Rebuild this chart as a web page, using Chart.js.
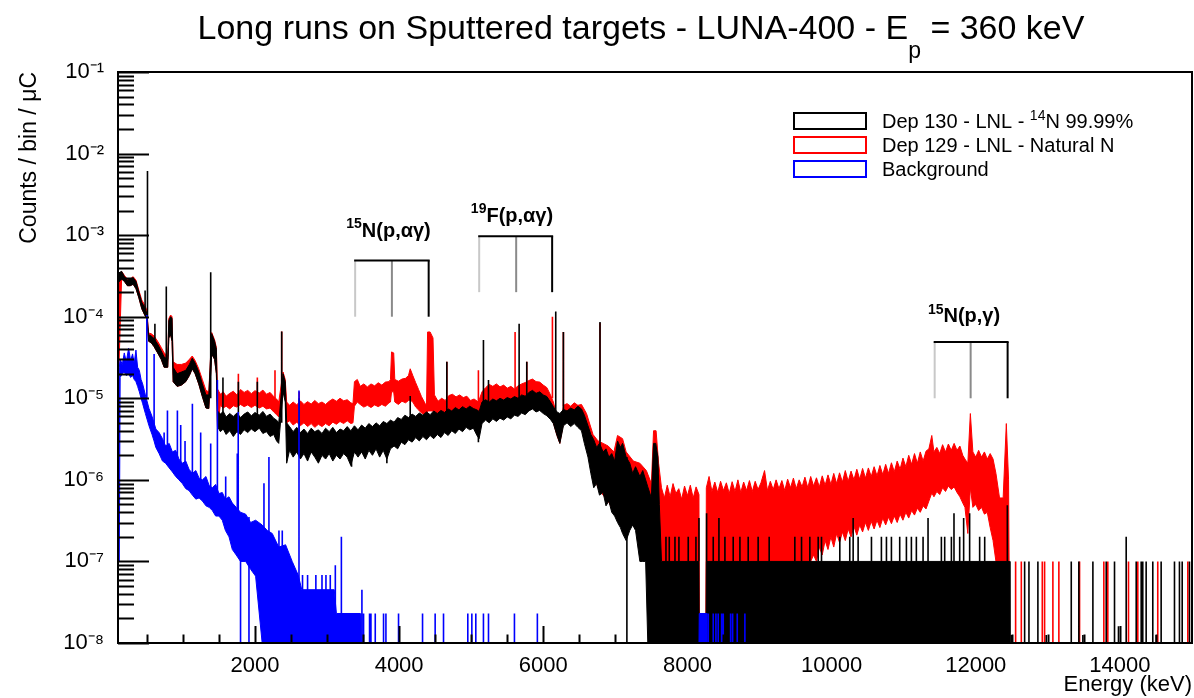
<!DOCTYPE html>
<html lang="en">
<head>
<meta charset="UTF-8">
<title>Long runs on Sputtered targets - LUNA-400</title>
<style>
  body { margin: 0; background: #fff; }
  canvas { display: block; }
</style>
</head>
<body>
<canvas id="spectrum" width="1194" height="698"></canvas>
<script src="https://cdn.jsdelivr.net/npm/chart.js@4"></script>
<script>
// axis ranges and tick labels
const X_MIN = 100, X_MAX = 15000;
const Y_MIN = 1e-8, Y_MAX = 1e-1;
const xTickValues = [2000, 4000, 6000, 8000, 10000, 12000, 14000];
const xTickLabels = ['2000', '4000', '6000', '8000', '10000', '12000', '14000'];
const yTickValues = [1e-8, 1e-7, 1e-6, 1e-5, 1e-4, 1e-3, 1e-2, 1e-1];
const yTickLabels = ['10⁻⁸', '10⁻⁷', '10⁻⁶', '10⁻⁵', '10⁻⁴', '10⁻³', '10⁻²', '10⁻¹'];

const seriesNames = ['Dep 130 - LNL - ^{14}N 99.99%', 'Dep 129 - LNL - Natural N', 'Background'];
const seriesColors = ['#000000', '#ff0000', '#0000ff'];

// noise band of each spectrum: [energy keV, upper edge, lower edge] in counts/bin/uC
const blackBand = [
  [100, 3.4e-4, 2.6e-4], [150, 3.6e-4, 2.9e-4], [190, 3.1e-4, 2.7e-4], [230, 2.8e-4, 2.4e-4],
  [270, 2.9e-4, 2.4e-4], [310, 3.0e-4, 2.5e-4], [350, 2.7e-4, 2.2e-4], [390, 2.0e-4, 1.7e-4],
  [430, 1.5e-4, 1.25e-4], [470, 1.3e-4, 1.05e-4], [500, 1.1e-4, 9.5e-5], [525, 6.0e-5, 5.0e-5],
  [560, 5.8e-5, 4.8e-5], [600, 5.4e-5, 4.3e-5], [650, 4.6e-5, 3.6e-5], [700, 3.8e-5, 3.0e-5],
  [740, 3.2e-5, 2.4e-5], [790, 3.0e-5, 2.4e-5], [805, 9.0e-5, 5.5e-5], [830, 1.0e-4, 6.0e-5],
  [850, 9.5e-5, 5.0e-5], [865, 2.4e-5, 1.6e-5], [920, 2.0e-5, 1.4e-5], [980, 2.1e-5, 1.45e-5],
  [1040, 2.2e-5, 1.6e-5], [1090, 2.6e-5, 1.9e-5], [1130, 3.1e-5, 2.3e-5], [1170, 2.7e-5, 2.0e-5],
  [1220, 2.1e-5, 1.5e-5], [1270, 1.5e-5, 1.05e-5], [1320, 1.1e-5, 7.6e-6], [1360, 1.1e-5, 7.5e-6],
  [1400, 6.2e-5, 3.5e-5], [1440, 5.0e-5, 3.0e-5], [1465, 4.0e-5, 2.0e-5], [1480, 7.0e-6, 4.5e-6],
  [1520, 6.4e-6, 3.9e-6], [1560, 6.9e-6, 4.2e-6], [1600, 5.9e-6, 3.6e-6], [1650, 6.5e-6, 4.0e-6],
  [1700, 6.0e-6, 3.4e-6], [1750, 6.6e-6, 3.9e-6], [1800, 5.8e-6, 3.6e-6], [1850, 6.4e-6, 4.1e-6],
  [1900, 6.8e-6, 3.8e-6], [1950, 6.1e-6, 4.2e-6], [2000, 6.7e-6, 3.9e-6], [2060, 6.2e-6, 4.3e-6],
  [2110, 6.9e-6, 3.7e-6], [2160, 6.0e-6, 3.9e-6], [2210, 6.4e-6, 3.4e-6], [2260, 5.7e-6, 3.6e-6],
  [2300, 5.4e-6, 3.0e-6], [2330, 5.0e-6, 2.8e-6], [2390, 2.0e-5, 1.2e-5], [2420, 1.6e-5, 9.0e-6],
  [2440, 5.0e-6, 1.6e-6], [2480, 4.5e-6, 2.3e-6], [2530, 3.9e-6, 1.9e-6], [2580, 4.4e-6, 2.2e-6],
  [2630, 3.8e-6, 1.8e-6], [2680, 4.2e-6, 2.1e-6], [2730, 3.7e-6, 1.7e-6], [2780, 4.3e-6, 2.2e-6],
  [2830, 3.9e-6, 1.9e-6], [2880, 4.1e-6, 1.6e-6], [2930, 3.7e-6, 2.0e-6], [2980, 4.3e-6, 1.8e-6],
  [3030, 3.9e-6, 2.1e-6], [3080, 4.4e-6, 1.7e-6], [3130, 3.8e-6, 2.0e-6], [3180, 4.2e-6, 1.8e-6],
  [3230, 4.0e-6, 2.1e-6], [3280, 4.5e-6, 1.9e-6], [3330, 4.0e-6, 1.5e-6], [3380, 4.6e-6, 2.2e-6],
  [3430, 4.1e-6, 1.9e-6], [3480, 4.7e-6, 2.2e-6], [3530, 4.3e-6, 1.8e-6], [3580, 4.9e-6, 2.3e-6],
  [3630, 4.5e-6, 2.0e-6], [3680, 5.0e-6, 2.4e-6], [3730, 4.6e-6, 1.9e-6], [3780, 5.2e-6, 2.3e-6],
  [3830, 4.9e-6, 1.8e-6], [3880, 5.4e-6, 2.4e-6], [3930, 5.1e-6, 2.6e-6], [3980, 5.8e-6, 2.4e-6],
  [4030, 5.5e-6, 2.9e-6], [4080, 6.2e-6, 2.7e-6], [4130, 5.8e-6, 3.1e-6], [4180, 6.4e-6, 2.9e-6],
  [4230, 6.0e-6, 3.3e-6], [4280, 6.6e-6, 3.0e-6], [4330, 6.2e-6, 3.4e-6], [4380, 6.8e-6, 3.1e-6],
  [4430, 6.3e-6, 3.5e-6], [4480, 7.0e-6, 3.2e-6], [4530, 6.5e-6, 3.6e-6], [4580, 7.1e-6, 3.3e-6],
  [4630, 6.7e-6, 3.8e-6], [4680, 7.4e-6, 3.5e-6], [4730, 7.0e-6, 4.0e-6], [4780, 7.7e-6, 3.7e-6],
  [4830, 7.2e-6, 4.2e-6], [4880, 7.9e-6, 3.9e-6], [4930, 7.4e-6, 4.4e-6], [4980, 8.0e-6, 4.1e-6],
  [5030, 7.5e-6, 4.3e-6], [5080, 7.2e-6, 3.5e-6], [5110, 6.9e-6, 3.2e-6], [5150, 9.0e-6, 4.9e-6],
  [5200, 9.6e-6, 5.4e-6], [5250, 9.0e-6, 5.0e-6], [5300, 9.8e-6, 5.6e-6], [5350, 9.3e-6, 5.2e-6],
  [5400, 1.0e-5, 5.7e-6], [5450, 9.5e-6, 5.4e-6], [5500, 1.02e-5, 5.9e-6], [5550, 9.8e-6, 5.6e-6],
  [5600, 1.05e-5, 6.2e-6], [5650, 1.0e-5, 6.0e-6], [5700, 1.1e-5, 6.6e-6], [5750, 1.06e-5, 6.3e-6],
  [5800, 1.18e-5, 7.0e-6], [5850, 1.25e-5, 7.4e-6], [5900, 1.15e-5, 6.8e-6], [5950, 1.2e-5, 7.1e-6],
  [6000, 1.1e-5, 6.5e-6], [6050, 1.05e-5, 6.1e-6], [6100, 9.0e-6, 5.5e-6], [6140, 7.9e-6, 4.9e-6],
  [6190, 6.8e-6, 3.5e-6], [6230, 6.5e-6, 2.8e-6], [6280, 7.3e-6, 4.6e-6], [6330, 7.0e-6, 5.0e-6],
  [6380, 7.6e-6, 4.5e-6], [6430, 7.2e-6, 4.9e-6], [6480, 8.0e-6, 4.4e-6], [6530, 7.4e-6, 4.0e-6],
  [6570, 6.2e-6, 2.8e-6], [6620, 4.6e-6, 1.9e-6], [6660, 3.6e-6, 1.2e-6], [6700, 3.1e-6, 8.0e-7],
  [6740, 2.5e-6, 9.0e-7], [6780, 2.8e-6, 6.5e-7], [6830, 2.2e-6, 7.0e-7], [6870, 2.4e-6, 4.8e-7],
  [6910, 1.9e-6, 5.5e-7], [6950, 2.1e-6, 4.0e-7], [6990, 1.7e-6, 3.6e-7], [7030, 3.0e-6, 3.0e-7],
  [7070, 2.5e-6, 2.6e-7], [7100, 2.8e-6, 2.2e-7], [7150, 1.9e-6, 1.8e-7], [7200, 1.6e-6, 2.4e-7],
  [7240, 1.2e-6, 2.8e-7], [7280, 1.45e-6, 2.4e-7], [7340, 1.1e-6, 1.0e-7], [7380, 1.3e-6, 1.0e-7],
  [7420, 1.0e-6, 1.0e-7], [7450, 8.2e-7, 1e-8], [7500, 6.0e-7, 1e-8], [7530, 2.8e-6, 1e-8],
  [7560, 2.8e-6, 1e-8], [7590, 1.9e-6, 1e-8], [7610, 5.0e-7, 1e-8], [7640, 1e-7, 1e-8],
  [8160, 1e-7, 1e-8], [8164, 1e-8, 1e-8], [8257, 1e-8, 1e-8], [8262, 1e-7, 1e-8],
  [12470, 1e-7, 1e-8], [12475, 1e-8, 1e-8], [15000, 1e-8, 1e-8]
];

const redBand = [
  [100, 3.0e-4, 1.0e-5], [150, 3.6e-4, 2.9e-4], [190, 3.2e-4, 2.7e-4], [230, 2.9e-4, 2.4e-4],
  [270, 2.9e-4, 2.4e-4], [310, 3.1e-4, 2.5e-4], [350, 2.8e-4, 2.2e-4], [390, 2.1e-4, 1.7e-4],
  [430, 1.6e-4, 1.25e-4], [470, 1.4e-4, 1.05e-4], [500, 1.2e-4, 9.5e-5], [525, 6.3e-5, 5.0e-5],
  [560, 6.2e-5, 4.8e-5], [600, 5.8e-5, 4.3e-5], [650, 5.0e-5, 3.6e-5], [700, 4.2e-5, 3.0e-5],
  [740, 3.6e-5, 2.4e-5], [790, 3.3e-5, 2.4e-5], [805, 9.5e-5, 5.5e-5], [830, 1.05e-4, 6.0e-5],
  [850, 1.0e-4, 5.0e-5], [865, 2.8e-5, 1.6e-5], [920, 2.6e-5, 1.4e-5], [980, 2.6e-5, 1.45e-5],
  [1040, 2.7e-5, 1.6e-5], [1090, 3.0e-5, 1.9e-5], [1130, 3.3e-5, 2.3e-5], [1170, 2.9e-5, 2.0e-5],
  [1220, 2.3e-5, 1.5e-5], [1270, 1.7e-5, 1.05e-5], [1320, 1.25e-5, 7.6e-6], [1360, 1.2e-5, 7.5e-6],
  [1400, 6.4e-5, 3.5e-5], [1440, 5.2e-5, 3.0e-5], [1465, 4.2e-5, 2.0e-5], [1480, 1.3e-5, 4.5e-6],
  [1520, 1.12e-5, 8.2e-6], [1560, 1.2e-5, 7.6e-6], [1600, 1.06e-5, 8.0e-6], [1650, 1.15e-5, 7.4e-6],
  [1700, 1.22e-5, 8.1e-6], [1750, 1.1e-5, 7.8e-6], [1800, 1.28e-5, 8.4e-6], [1850, 1.18e-5, 7.9e-6],
  [1900, 1.25e-5, 8.3e-6], [1950, 1.14e-5, 7.7e-6], [2000, 1.24e-5, 8.2e-6], [2060, 1.16e-5, 7.6e-6],
  [2110, 1.26e-5, 8.0e-6], [2160, 1.12e-5, 7.4e-6], [2210, 1.18e-5, 7.6e-6], [2260, 1.05e-5, 6.8e-6],
  [2300, 9.8e-6, 6.3e-6], [2330, 9.0e-6, 5.9e-6], [2390, 2.1e-5, 1.3e-5], [2420, 1.7e-5, 1.0e-5],
  [2440, 9.0e-6, 5.0e-6], [2480, 8.2e-6, 5.3e-6], [2530, 9.0e-6, 4.7e-6], [2580, 8.3e-6, 5.1e-6],
  [2630, 9.3e-6, 4.6e-6], [2680, 8.4e-6, 5.0e-6], [2730, 9.1e-6, 4.5e-6], [2780, 8.5e-6, 4.9e-6],
  [2830, 9.4e-6, 4.4e-6], [2880, 8.6e-6, 4.8e-6], [2930, 9.0e-6, 4.5e-6], [2980, 8.4e-6, 4.9e-6],
  [3030, 9.2e-6, 4.6e-6], [3080, 9.8e-6, 5.1e-6], [3130, 9.2e-6, 4.8e-6], [3180, 1.0e-5, 5.2e-6],
  [3230, 9.3e-6, 4.9e-6], [3280, 9.6e-6, 5.3e-6], [3330, 8.8e-6, 4.9e-6], [3360, 8.6e-6, 5.0e-6],
  [3380, 1.6e-5, 8.0e-6], [3420, 1.7e-5, 9.0e-6], [3460, 1.4e-5, 8.4e-6], [3510, 1.5e-5, 7.8e-6],
  [3560, 1.38e-5, 8.2e-6], [3610, 1.5e-5, 7.7e-6], [3660, 1.42e-5, 8.3e-6], [3710, 1.55e-5, 7.9e-6],
  [3760, 1.45e-5, 8.4e-6], [3810, 1.58e-5, 8.0e-6], [3860, 1.6e-5, 8.8e-6], [3880, 1.7e-5, 9.0e-6],
  [3895, 3.7e-5, 1.2e-5], [3925, 3.6e-5, 1.2e-5], [3940, 1.7e-5, 9.0e-6], [3990, 1.62e-5, 8.4e-6],
  [4040, 1.72e-5, 9.2e-6], [4090, 1.76e-5, 8.8e-6], [4130, 1.9e-5, 9.4e-6], [4154, 2.3e-5, 9.5e-6],
  [4190, 1.9e-5, 9.0e-6], [4230, 1.55e-5, 7.8e-6], [4270, 1.28e-5, 7.2e-6], [4310, 1.05e-5, 6.6e-6],
  [4350, 9.0e-6, 6.3e-6], [4380, 8.0e-6, 6.0e-6], [4395, 6.5e-5, 7.0e-6], [4430, 6.5e-5, 7.0e-6],
  [4470, 5.5e-5, 7.0e-6], [4490, 1.1e-5, 6.5e-6], [4540, 9.2e-6, 6.2e-6], [4590, 1.0e-5, 6.5e-6],
  [4640, 9.4e-6, 6.3e-6], [4690, 1.08e-5, 6.8e-6], [4740, 1.12e-5, 7.0e-6], [4790, 1.04e-5, 6.9e-6],
  [4840, 1.1e-5, 7.1e-6], [4890, 1.02e-5, 6.8e-6], [4940, 1.06e-5, 7.0e-6], [4990, 9.4e-6, 6.5e-6],
  [5040, 9.8e-6, 6.1e-6], [5100, 9.0e-6, 5.0e-6], [5150, 1.2e-5, 6.8e-6], [5200, 1.35e-5, 7.0e-6],
  [5250, 1.48e-5, 7.2e-6], [5300, 1.4e-5, 7.0e-6], [5350, 1.5e-5, 7.3e-6], [5400, 1.38e-5, 7.0e-6],
  [5450, 1.45e-5, 7.2e-6], [5500, 1.33e-5, 7.0e-6], [5550, 1.4e-5, 7.2e-6], [5600, 1.3e-5, 7.1e-6],
  [5650, 1.42e-5, 7.8e-6], [5700, 1.5e-5, 8.0e-6], [5750, 1.56e-5, 8.1e-6], [5800, 1.65e-5, 8.2e-6],
  [5850, 1.72e-5, 8.4e-6], [5900, 1.6e-5, 8.0e-6], [5950, 1.58e-5, 7.8e-6], [6000, 1.45e-5, 7.4e-6],
  [6050, 1.35e-5, 7.0e-6], [6100, 1.1e-5, 6.0e-6], [6140, 9.0e-6, 5.0e-6], [6190, 6.0e-6, 3.5e-6],
  [6230, 4.0e-6, 2.8e-6], [6280, 8.2e-6, 5.0e-6], [6330, 8.6e-6, 5.3e-6], [6380, 8.0e-6, 5.1e-6],
  [6430, 8.8e-6, 5.4e-6], [6480, 8.2e-6, 5.0e-6], [6530, 8.4e-6, 4.6e-6], [6600, 6.5e-6, 3.4e-6],
  [6690, 3.6e-6, 1.2e-6], [6760, 3.0e-6, 8.0e-7], [6830, 2.8e-6, 6.5e-7], [6900, 2.6e-6, 5.5e-7],
  [6980, 2.2e-6, 4.0e-7], [7030, 3.5e-6, 3.5e-7], [7100, 3.2e-6, 3.0e-7], [7150, 2.2e-6, 3.0e-7],
  [7250, 1.7e-6, 3.0e-7], [7340, 1.6e-6, 2.0e-7], [7430, 1.3e-6, 2.0e-7], [7500, 9.0e-7, 1.5e-7],
  [7530, 4.0e-6, 1.5e-7], [7565, 4.0e-6, 1.5e-7], [7600, 1.6e-6, 1.5e-7], [7640, 8.0e-7, 1.0e-7],
  [7680, 6.0e-7, 1.0e-7], [7720, 8.6e-7, 1.0e-7], [7760, 6.2e-7, 1.0e-7], [7800, 9.0e-7, 1.0e-7],
  [7840, 6.8e-7, 1.0e-7], [7880, 7.8e-7, 1.0e-7], [7920, 5.8e-7, 1.0e-7], [7960, 8.4e-7, 1.0e-7],
  [8000, 6.4e-7, 1.0e-7], [8040, 8.6e-7, 1.0e-7], [8080, 6.0e-7, 1.0e-7], [8120, 8.2e-7, 1.0e-7],
  [8160, 6.6e-7, 1.0e-7], [8164, 1e-8, 1e-8], [8257, 1e-8, 1e-8], [8262, 8.0e-7, 1.0e-7],
  [8300, 1.1e-6, 1.0e-7], [8340, 7.2e-7, 1.0e-7], [8380, 9.4e-7, 1.0e-7], [8420, 7.0e-7, 1.0e-7],
  [8460, 9.6e-7, 1.0e-7], [8500, 7.4e-7, 1.0e-7], [8540, 9.2e-7, 1.0e-7], [8580, 6.8e-7, 1.0e-7],
  [8620, 9.5e-7, 1.0e-7], [8660, 7.2e-7, 1.0e-7], [8700, 1.0e-6, 1.0e-7], [8740, 7.0e-7, 1.0e-7],
  [8780, 9.4e-7, 1.0e-7], [8820, 7.4e-7, 1.0e-7], [8860, 9.8e-7, 1.0e-7], [8900, 7.2e-7, 1.0e-7],
  [8940, 9.6e-7, 1.0e-7], [8980, 7.6e-7, 1.0e-7], [9020, 9.2e-7, 1.0e-7], [9070, 1.3e-6, 1.0e-7],
  [9110, 7.4e-7, 1.0e-7], [9150, 9.6e-7, 1.0e-7], [9190, 7.6e-7, 1.0e-7], [9230, 1.0e-6, 1.0e-7],
  [9270, 7.8e-7, 1.0e-7], [9310, 9.8e-7, 1.0e-7], [9350, 7.4e-7, 1.0e-7], [9390, 1.02e-6, 1.0e-7],
  [9430, 8.0e-7, 1.0e-7], [9470, 1.05e-6, 1.0e-7], [9510, 7.8e-7, 1.0e-7], [9550, 1.0e-6, 1.0e-7],
  [9590, 8.2e-7, 1.0e-7], [9630, 1.08e-6, 1.0e-7], [9670, 8.0e-7, 1.0e-7], [9710, 1.1e-6, 1.0e-7],
  [9750, 8.4e-7, 1.2e-7], [9790, 1.06e-6, 1.0e-7], [9830, 8.2e-7, 1.5e-7], [9870, 1.12e-6, 1.2e-7],
  [9910, 8.6e-7, 1.8e-7], [9950, 1.15e-6, 1.4e-7], [9990, 8.8e-7, 2.0e-7], [10030, 1.2e-6, 1.5e-7],
  [10070, 9.0e-7, 2.2e-7], [10110, 1.22e-6, 1.7e-7], [10150, 9.4e-7, 2.3e-7], [10190, 1.3e-6, 1.8e-7],
  [10230, 9.6e-7, 2.5e-7], [10270, 1.28e-6, 2.0e-7], [10310, 1.0e-6, 2.7e-7], [10350, 1.35e-6, 2.1e-7],
  [10390, 1.02e-6, 2.8e-7], [10430, 1.38e-6, 2.3e-7], [10470, 1.05e-6, 3.0e-7], [10510, 1.4e-6, 2.4e-7],
  [10550, 1.1e-6, 3.1e-7], [10590, 1.45e-6, 2.5e-7], [10630, 1.12e-6, 3.2e-7], [10670, 1.5e-6, 2.6e-7],
  [10710, 1.16e-6, 3.4e-7], [10750, 1.55e-6, 2.8e-7], [10790, 1.2e-6, 3.5e-7], [10830, 1.62e-6, 2.9e-7],
  [10870, 1.26e-6, 3.6e-7], [10910, 1.7e-6, 3.0e-7], [10950, 1.35e-6, 3.8e-7], [10990, 1.85e-6, 3.2e-7],
  [11030, 1.45e-6, 4.0e-7], [11070, 2.0e-6, 3.4e-7], [11110, 1.55e-6, 4.2e-7], [11150, 2.1e-6, 3.7e-7],
  [11190, 1.6e-6, 4.5e-7], [11230, 2.2e-6, 4.0e-7], [11270, 1.7e-6, 4.8e-7], [11310, 2.25e-6, 4.4e-7],
  [11350, 2.4e-6, 5.5e-7], [11390, 3.5e-6, 6.9e-7], [11420, 2.2e-6, 6.2e-7], [11460, 2.5e-6, 7.2e-7],
  [11500, 2.1e-6, 6.6e-7], [11540, 2.7e-6, 8.0e-7], [11580, 2.2e-6, 7.2e-7], [11620, 2.75e-6, 8.4e-7],
  [11660, 2.3e-6, 7.6e-7], [11700, 2.8e-6, 8.2e-7], [11740, 2.3e-6, 7.0e-7], [11780, 2.6e-6, 6.2e-7],
  [11820, 2.0e-6, 5.2e-7], [11850, 1.8e-6, 4.6e-7], [11890, 1.6e-6, 2.2e-7], [11925, 6.5e-6, 8.0e-7],
  [11960, 2.2e-6, 4.6e-7], [12000, 1.9e-6, 5.0e-7], [12040, 2.3e-6, 4.2e-7], [12080, 1.9e-6, 4.6e-7],
  [12120, 2.2e-6, 3.8e-7], [12160, 1.8e-6, 4.0e-7], [12200, 2.1e-6, 2.6e-7], [12240, 1.8e-6, 1.8e-7],
  [12280, 1.2e-6, 1.0e-7], [12330, 6.0e-7, 1.0e-7], [12380, 6.0e-7, 1.0e-7], [12424, 4.9e-6, 1.0e-7],
  [12455, 1.0e-6, 1.0e-7], [12470, 1e-8, 1e-8], [15000, 1e-8, 1e-8]
];

const blueBand = [
  [100, 1.0e-7, 1.0e-7], [118, 2.4e-5, 1.0e-7], [130, 3.0e-5, 1.8e-5], [160, 2.6e-5, 2.0e-5],
  [187, 3.6e-5, 2.1e-5], [215, 2.8e-5, 1.9e-5], [247, 4.1e-5, 2.0e-5], [275, 2.9e-5, 1.8e-5],
  [302, 3.5e-5, 1.9e-5], [325, 2.7e-5, 1.7e-5], [349, 3.9e-5, 1.6e-5], [372, 2.4e-5, 1.4e-5],
  [396, 2.2e-5, 1.2e-5], [420, 1.7e-5, 1.0e-5], [442, 1.5e-5, 8.6e-6], [480, 1.1e-5, 6.5e-6],
  [530, 7.5e-6, 4.6e-6], [572, 6.0e-6, 3.6e-6], [600, 5.0e-6, 3.0e-6], [625, 4.2e-6, 2.5e-6],
  [670, 3.8e-6, 2.1e-6], [717, 3.2e-6, 1.7e-6], [760, 2.6e-6, 1.6e-6], [810, 2.8e-6, 1.4e-6],
  [855, 2.2e-6, 1.25e-6], [900, 2.3e-6, 1.1e-6], [945, 1.8e-6, 1.0e-6], [993, 1.6e-6, 9.0e-7],
  [1040, 1.7e-6, 7.8e-7], [1085, 1.35e-6, 7.4e-7], [1132, 1.2e-6, 6.5e-7], [1180, 1.3e-6, 5.8e-7],
  [1225, 1.05e-6, 6.0e-7], [1271, 1.0e-6, 5.5e-7], [1320, 1.1e-6, 4.8e-7], [1365, 8.5e-7, 4.6e-7],
  [1409, 8.0e-7, 4.2e-7], [1455, 8.8e-7, 3.6e-7], [1500, 6.8e-7, 3.6e-7], [1547, 7.0e-7, 3.2e-7],
  [1590, 5.8e-7, 2.4e-7], [1640, 6.2e-7, 2.0e-7], [1686, 5.2e-7, 1.4e-7], [1740, 4.6e-7, 1.2e-7],
  [1800, 4.0e-7, 1.0e-7], [1871, 3.8e-7, 1.0e-7], [1940, 3.0e-7, 8.0e-8], [2009, 3.2e-7, 6.6e-8],
  [2100, 2.8e-7, 1e-8], [2170, 2.4e-7, 1e-8], [2240, 2.2e-7, 1e-8], [2330, 1.5e-7, 1e-8],
  [2425, 1.6e-7, 1e-8], [2517, 1.0e-7, 1e-8], [2600, 6.8e-8, 1e-8], [2650, 4.5e-8, 1e-8],
  [3100, 4.5e-8, 1e-8], [3130, 2.3e-8, 1e-8], [3460, 2.3e-8, 1e-8], [3470, 1e-8, 1e-8],
  [8160, 1e-8, 1e-8], [8164, 2.3e-8, 1e-8], [8266, 2.3e-8, 1e-8], [8270, 1e-8, 1e-8],
  [15000, 1e-8, 1e-8]
];

// single-bin lines: [energy keV, top, base]; base omitted = empty bin (axis floor)
const blackLines = [
  [476, 2.1e-4, 1.2e-4], [509, 6.1e-3, 1.0e-4], [612, 8.2e-5, 4.5e-5], [770, 2.35e-4, 3.0e-5],
  [1386, 3.5e-4, 1.0e-5], [1556, 1.8e-5, 5e-6], [1770, 1.6e-5, 5e-6], [2033, 1.6e-5, 5e-6],
  [2371, 6.6e-5, 5e-6], [2614, 1.0e-5, 3e-6], [3340, 1.45e-6, 3e-6], [3830, 1.6e-6, 3e-6],
  [4154, 1.07e-5, 5e-6], [4662, 2.8e-5, 5e-6], [5100, 2.9e-6, 5e-6],
  [5170, 5.2e-5, 7e-6], [5240, 1.67e-5, 7e-6], [5665, 8.2e-5, 8e-6], [5771, 2.8e-5, 8e-6],
  [6173, 1.16e-4, 6e-6], [6279, 6.5e-5, 5e-6], [6787, 8.6e-5, 2e-6], [7160, 1.9e-6],
  [7702, 2e-7, 1e-7], [7748, 2e-7, 1e-7], [7827, 2e-7, 1e-7], [7882, 2e-7, 1e-7],
  [8011, 2e-7, 1e-7], [8118, 2e-7, 1e-7], [8160, 3.4e-7, 1e-7], [8266, 3.9e-7, 1e-7],
  [8358, 2e-7, 1e-7], [8437, 3.4e-7, 1e-7], [8520, 2e-7, 1e-7], [8635, 2e-7, 1e-7],
  [8728, 2e-7, 1e-7], [8843, 2e-7, 1e-7], [8981, 2e-7, 1e-7], [9134, 2e-7, 1e-7],
  [9490, 2e-7, 1e-7], [9583, 2e-7, 1e-7], [9698, 2e-7, 1e-7], [9814, 2e-7, 1e-7],
  [9860, 2e-7, 1e-7], [10114, 2e-7, 1e-7], [10252, 2e-7, 1e-7], [10299, 3.4e-7, 1e-7],
  [10368, 2e-7, 1e-7], [10553, 2e-7, 1e-7], [10691, 2e-7, 1e-7], [10761, 2e-7, 1e-7],
  [10830, 2e-7, 1e-7], [10945, 2e-7, 1e-7], [11038, 2e-7, 1e-7], [11107, 2e-7, 1e-7],
  [11176, 2e-7, 1e-7], [11269, 2e-7, 1e-7], [11338, 3.4e-7, 1e-7], [11523, 2e-7, 1e-7],
  [11569, 2e-7, 1e-7], [11662, 2e-7, 1e-7], [11698, 3.9e-7, 1e-7], [11777, 2e-7, 1e-7],
  [11832, 3.4e-7, 1e-7], [11915, 3.9e-7, 1e-7], [12054, 2e-7, 1e-7], [12124, 2e-7, 1e-7],
  [12438, 4.9e-7, 1e-7],
  [12493, 1.25e-8], [12678, 1e-7], [12738, 1e-7], [12862, 1e-7], [12978, 1.25e-8], [13325, 1e-7],
  [13430, 1e-7], [13486, 1.25e-8], [13625, 1e-7], [13810, 1e-7], [13925, 1e-7], [13980, 1.6e-8],
  [14087, 2e-7], [14226, 1e-7], [14295, 1e-7], [14317, 1e-7], [14364, 1e-7], [14456, 1e-7],
  [14503, 1.25e-8], [14572, 1e-7], [14757, 1e-7], [14826, 1e-7], [14864, 1e-7], [14965, 1e-7]
];

const redLines = [
  [1770, 2.0e-5, 1e-5], [2033, 1.8e-5, 1e-5], [2278, 2.2e-5, 1e-5], [2371, 6.6e-5, 1e-5],
  [2614, 1.2e-5, 8e-6], [4662, 2.8e-5, 8e-6], [5100, 2.2e-5, 8e-6], [5609, 6.5e-5, 1e-5],
  [5771, 2.8e-5, 1e-5], [6127, 1.0e-4, 1e-5], [6279, 6.5e-5, 8e-6], [6787, 8.4e-5, 3e-6],
  [12553, 1e-7], [12632, 1e-7], [12923, 1e-7], [12955, 1e-7], [13070, 1e-7], [13153, 1e-7],
  [13440, 1e-7], [13777, 1e-7], [13832, 1e-7], [14119, 1e-7], [14248, 1e-7], [14525, 1e-7],
  [14942, 1e-7]
];

const blueLines = [
  [500, 1.05e-4, 1e-5], [601, 3.5e-5, 4e-6], [740, 3.8e-6, 2e-6], [786, 7.1e-6, 2e-6],
  [924, 7.1e-6, 1.5e-6], [970, 4.7e-6, 1.2e-6], [1030, 3.0e-6, 1e-6], [1132, 8.6e-6, 1e-6],
  [1247, 3.8e-6, 7e-7], [1386, 2.8e-6, 6e-7], [1479, 1.67e-5, 5e-7], [1594, 1.1e-6, 4e-7],
  [1755, 2.1e-6, 2e-7], [1768, 6.8e-6, 2e-7], [1800, 2e-7], [1917, 3.5e-7], [2125, 9.1e-7],
  [2194, 1.9e-6], [2333, 2.4e-7], [2379, 2.4e-7], [2611, 1.25e-5], [2660, 6.8e-8],
  [2730, 6.8e-8], [2845, 6.8e-8], [2930, 6.8e-8], [2985, 6.8e-8], [3045, 6.8e-8],
  [3115, 9e-8], [3199, 2.0e-7], [3484, 4.5e-8], [3507, 2.3e-8], [3590, 2.3e-8], [3609, 2.3e-8],
  [3669, 2.3e-8], [3784, 2.3e-8], [3817, 2.3e-8], [3992, 2.3e-8], [4325, 2.3e-8], [4500, 2.3e-8],
  [4616, 2.3e-8], [4953, 2.3e-8], [5009, 2.3e-8], [5064, 2.3e-8], [5170, 2.3e-8], [5240, 2.3e-8],
  [5600, 2.3e-8], [5918, 2.3e-8], [8289, 2.3e-8], [8358, 2.3e-8], [8395, 2.3e-8], [8427, 2.3e-8],
  [8474, 2.3e-8], [8497, 2.3e-8], [8599, 2.3e-8], [8627, 2.3e-8], [8691, 2.3e-8], [8797, 2.3e-8]
];

// reaction markers: label, line energies (keV), bracket top and bottom, label anchor
const markerLabels = ['^{15}N(p,αγ)', '^{19}F(p,αγ)', '^{15}N(p,γ)'];
const markerLines = [[3390, 3900, 4410], [5111, 5624, 6123], [11430, 11929, 12442]];
const markerTop = [4.9e-4, 9.7e-4, 4.9e-5];
const markerBottom = [1.0e-4, 2.0e-4, 1.0e-5];
const markerLabelAt = [[3853, 1.16e-3], [5566, 1.79e-3], [11837, 1.05e-4]];
const markerLineColors = ['#c8c8c8', '#8a8a8a', '#000000'];

const FONT = '"Liberation Sans", Arial, Helvetica, sans-serif';

function bandData(band, col) {
  return band.map(r => ({ x: r[0], y: r[col] }));
}

function lineData(list) {
  const out = [];
  list.forEach(p => {
    out.push({ x: p[0], y: p.length > 2 ? p[2] : Y_MIN });
    out.push({ x: p[0], y: p[1] });
    out.push({ x: p[0], y: null });
  });
  return out;
}

function plain(s) {
  return s.replace(/[\^_]\{([^}]*)\}/g, '$1');
}

function series(name, color, band, lines, order) {
  return [
    { label: plain(name), data: bandData(band, 1), borderColor: color, backgroundColor: color,
      borderWidth: 1, fill: '+1', order: order },
    { label: plain(name) + ' lower', data: bandData(band, 2), borderColor: color,
      borderWidth: 1, fill: false, order: order },
    { label: plain(name) + ' lines', data: lineData(lines), borderColor: color,
      borderWidth: 1.6, fill: false, spanGaps: false, order: order }
  ];
}

// text with ^{sup} and _{sub}
function richParts(str) {
  const parts = [];
  const re = /([\^_])\{([^}]*)\}/g;
  let last = 0, m;
  while ((m = re.exec(str))) {
    if (m.index > last) parts.push({ t: str.slice(last, m.index), k: '' });
    parts.push({ t: m[2], k: m[1] });
    last = re.lastIndex;
  }
  if (last < str.length) parts.push({ t: str.slice(last), k: '' });
  return parts;
}

function drawRich(ctx, str, x, y, size, weight, align) {
  const parts = richParts(str);
  const fontFor = k => weight + ' ' + (k ? Math.round(size * 0.68) : size) + 'px ' + FONT;
  let w = 0;
  parts.forEach(p => { ctx.font = fontFor(p.k); p.w = ctx.measureText(p.t).width; w += p.w; });
  let cx = align === 'center' ? x - w / 2 : (align === 'right' ? x - w : x);
  ctx.textAlign = 'left';
  ctx.textBaseline = 'alphabetic';
  parts.forEach(p => {
    ctx.font = fontFor(p.k);
    const dy = p.k === '^' ? -size * 0.42 : (p.k === '_' ? size * 0.55 : 0);
    ctx.fillText(p.t, cx, y + dy);
    cx += p.w;
  });
}

// frame with inward ROOT-style ticks, plus the reaction markers
const framePlugin = {
  id: 'frame',
  afterDatasetsDraw(chart) {
    const { ctx, chartArea: a, scales: { x, y } } = chart;
    ctx.save();
    ctx.strokeStyle = '#000';
    ctx.lineWidth = 2;
    ctx.beginPath();
    for (let e = 500; e < X_MAX; e += 500) {
      const px = Math.round(x.getPixelForValue(e)) + 0.5;
      const len = e % 2000 === 0 ? 17 : 8.5;
      ctx.moveTo(px, a.bottom);
      ctx.lineTo(px, a.bottom - len);
    }
    yTickValues.forEach(d => {
      for (let k = 1; k <= 9; k++) {
        const v = d * k;
        if (v > Y_MAX * 1.0001) break;
        const py = Math.round(y.getPixelForValue(v)) + 0.5;
        ctx.moveTo(a.left, py);
        ctx.lineTo(a.left + (k === 1 ? 31 : 16), py);
      }
    });
    ctx.stroke();
    ctx.strokeRect(a.left, a.top, a.right - a.left, a.bottom - a.top);

    markerLines.forEach((es, i) => {
      const top = y.getPixelForValue(markerTop[i]);
      const bot = y.getPixelForValue(markerBottom[i]);
      es.forEach((e, j) => {
        const px = x.getPixelForValue(e);
        ctx.strokeStyle = markerLineColors[j];
        ctx.beginPath();
        ctx.moveTo(px, top);
        ctx.lineTo(px, bot);
        ctx.stroke();
      });
      ctx.strokeStyle = '#000';
      ctx.beginPath();
      ctx.moveTo(x.getPixelForValue(es[0]) - 1, top);
      ctx.lineTo(x.getPixelForValue(es[2]) + 1, top);
      ctx.stroke();
      ctx.fillStyle = '#000';
      const lx = x.getPixelForValue(markerLabelAt[i][0]);
      const ly = y.getPixelForValue(markerLabelAt[i][1]);
      drawRich(ctx, markerLabels[i], lx, ly + 7, 20, 'bold', 'center');
    });
    ctx.restore();
  }
};

// title and legend
const textPlugin = {
  id: 'texts',
  afterDraw(chart) {
    const { ctx } = chart;
    ctx.save();
    ctx.fillStyle = '#000';
    drawRich(ctx, 'Long runs on Sputtered targets - LUNA-400 - E_{p} = 360 keV', 641, 39, 34, 'normal', 'center');

    seriesNames.forEach((name, i) => {
      const cy = 121 + i * 24;
      ctx.strokeStyle = seriesColors[i];
      ctx.lineWidth = 2;
      ctx.strokeRect(794, cy - 8, 72, 16);
      ctx.fillStyle = '#000';
      drawRich(ctx, name, 882, cy + 7, 20, 'normal', 'left');
    });
    ctx.restore();
  }
};

const datasets = [].concat(
  series(seriesNames[1], seriesColors[1], redBand, redLines, 2),
  series(seriesNames[0], seriesColors[0], blackBand, blackLines, 1),
  series(seriesNames[2], seriesColors[2], blueBand, blueLines, 0)
);

new Chart(document.getElementById('spectrum'), {
  type: 'line',
  data: { datasets: datasets },
  options: {
    responsive: false,
    animation: false,
    devicePixelRatio: 1,
    layout: { padding: { top: 72, right: 2, left: 0, bottom: 0 } },
    elements: { point: { radius: 0, hoverRadius: 0 }, line: { tension: 0 } },
    plugins: {
      legend: { display: false },
      tooltip: { enabled: false },
      title: { display: false }
    },
    events: [],
    scales: {
      x: {
        type: 'linear',
        min: X_MIN,
        max: X_MAX,
        grid: { display: false },
        border: { display: false },
        afterBuildTicks: s => { s.ticks = xTickValues.map(v => ({ value: v })); },
        afterFit: s => { s.height = 55; },
        ticks: {
          autoSkip: false,
          maxRotation: 0,
          padding: 2,
          color: '#000',
          font: { family: FONT, size: 22 },
          callback: (v, i) => xTickLabels[i]
        },
        title: {
          display: true,
          text: 'Energy (keV)',
          align: 'end',
          color: '#000',
          font: { family: FONT, size: 22 },
          padding: { top: 0, bottom: 0 }
        }
      },
      y: {
        type: 'logarithmic',
        min: Y_MIN,
        max: Y_MAX,
        grid: { display: false },
        border: { display: false },
        afterBuildTicks: s => { s.ticks = yTickValues.map(v => ({ value: v })); },
        afterFit: s => { s.width = 118; },
        ticks: {
          autoSkip: false,
          padding: 6,
          color: '#000',
          font: { family: FONT, size: 22 },
          callback: (v, i) => yTickLabels[i]
        },
        title: {
          display: true,
          text: 'Counts / bin / μC',
          align: 'end',
          color: '#000',
          font: { family: FONT, size: 23 },
          padding: { top: 16, bottom: 0 }
        }
      }
    }
  },
  plugins: [framePlugin, textPlugin]
});
</script>
</body>
</html>
